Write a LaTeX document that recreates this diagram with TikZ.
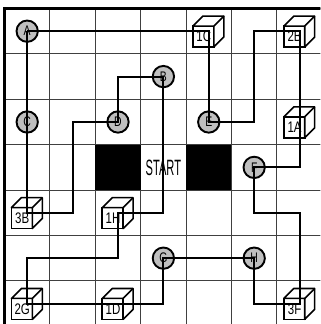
\documentclass[tikz,border=0pt]{standalone}
\usepackage{fontspec}
\setmainfont{Liberation Sans}
\newfontfamily\narrowfont[FakeStretch=0.75]{Liberation Sans}
\newfontfamily\startfont[FakeStretch=0.5]{Liberation Sans}
\usetikzlibrary{positioning, calc}
\tikzset{
    board/.style={line width=0.6pt, black!75},
    frame/.style={line width=1.9pt},
    route/.style={line width=1.2pt, line join=miter},
    blocked/.style={fill=black, minimum size=1cm, inner sep=0pt},
    stop/.style={draw, circle, line width=1.2pt, fill=black!25, minimum size=0.47cm,
        inner sep=0pt, font=\narrowfont\fontsize{8.7}{9}\selectfont},
    % crate: node sits at the cell centre, the label goes on the front face
    crate/.style={minimum size=0.68cm, inner sep=0pt,
        append after command={\pgfextra{
            \draw[line width=1pt, fill=white] (\tikzlastnode.south west) rectangle ++(0.46,0.46);
            \draw[line width=1pt, fill=white, line join=round]
                ([yshift=0.46cm]\tikzlastnode.south west) -- ++(0.22,0.22) -- ++(0.46,0)
                -- ++(0,-0.46) -- ++(-0.22,-0.22) -- ++(0,0.46) -- cycle;
            \draw[line width=1pt] ([shift={(0.46,0.46)}]\tikzlastnode.south west) -- ++(0.22,0.22);
        }},
        label={[font=\narrowfont\fontsize{9.6}{10}\selectfont, xshift=-0.11cm, yshift=-0.12cm]center:#1}},
}

\begin{document}
\begin{tikzpicture}
    \useasboundingbox (-0.099,0.187) rectangle (6.956,-6.95);
    \clip (-0.099,0.187) rectangle (6.956,-6.95);

    \draw[board] (0,-7) grid (7,0);
    \draw[frame] (0,-7.5) -- (0,0) -- (7.5,0);

    \node[blocked] (wallL) at (2.5,-3.5) {};
    \node[blocked] (wallR) at (4.5,-3.5) {};
    \node[font=\startfont\fontsize{13.9}{14}\selectfont] (start) at (3.5,-3.5) {START};

    \node[stop] (A) at (0.5,-0.5) {A};
    \node[stop] (B) at (3.5,-1.5) {B};
    \node[stop] (C) at (0.5,-2.5) {C};
    \node[stop] (D) at (2.5,-2.5) {D};
    \node[stop] (E) at (4.5,-2.5) {E};
    \node[stop] (F) at (5.5,-3.5) {F};
    \node[stop] (G) at (3.5,-5.5) {G};
    \node[stop] (H) at (5.5,-5.5) {H};

    \node[crate=1C] (1C) at (4.5,-0.5) {};
    \node[crate=2B] (2B) at (6.5,-0.5) {};
    \node[crate=1A] (1A) at (6.5,-2.5) {};
    \node[crate=3B] (3B) at (0.5,-4.5) {};
    \node[crate=1H] (1H) at (2.5,-4.5) {};
    \node[crate=2G] (2G) at (0.5,-6.5) {};
    \node[crate=1D] (1D) at (2.5,-6.5) {};
    \node[crate=3F] (3F) at (6.5,-6.5) {};

    \draw[route] (A.center) -- (1C.center) -- (E.center) -- ++(1,0) |- (2B.center)
        -- (1A.center) |- (F.center) -- ++(0,-1) -| (3F.center)
        -| (H.center) -- (G.center) |- (1D.center) -- (2G.center)
        -- ++(0,1) -| (1H.center) -| (B.center)
        -| (D.center) -- ++(-1,0) |- (3B.center) -- (C.center) -- (A.center);
\end{tikzpicture}
\end{document}
